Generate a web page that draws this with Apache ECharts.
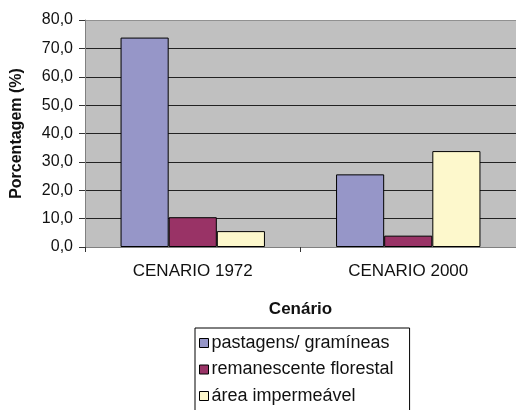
<!DOCTYPE html>
<html>
<head>
<meta charset="utf-8">
<script src="https://cdn.jsdelivr.net/npm/echarts@6/dist/echarts.min.js"></script>
<style>
  html, body { margin: 0; padding: 0; background: #fff; }
  #chart { width: 516px; height: 410px; }
</style>
</head>
<body>
<div id="chart"></div>
<script>
  // dados
  var cenarios = ['CENARIO 1972', 'CENARIO 2000']
  var pastagens = [73.8, 25.6]
  var remanescente = [10.5, 4.0]
  var impermeavel = [5.6, 33.8]
  var nomes = ['pastagens/ gramíneas', 'remanescente florestal', 'área impermeável']

  var fonte = 'Liberation Sans, Arial, sans-serif'
  var chart = echarts.init(document.getElementById('chart'))

  function serie (nome, dados, cor) {
    return {
      name: nome,
      type: 'bar',
      data: dados,
      barGap: '0%',
      barCategoryGap: '33%',
      itemStyle: {
        color: cor,
        borderColor: '#000',
        borderWidth: 1
      }
    }
  }

  chart.setOption({
    animation: false,
    backgroundColor: '#fff',
    grid: {
      left: 85,
      top: 20,
      right: -5,
      bottom: 163,
      show: true,
      backgroundColor: '#c0c0c0',
      borderWidth: 0
    },
    legend: {
      orient: 'vertical',
      left: 195,
      top: 328,
      height: 110,
      padding: [6, 16, 12, 4],
      itemGap: 8.5,
      itemWidth: 9,
      itemHeight: 9,
      borderColor: '#000',
      borderWidth: 1,
      textStyle: { fontFamily: fonte, fontSize: 18, color: '#111', padding: [0, 0, 0, -2] },
      itemStyle: { borderColor: '#000', borderWidth: 1 },
      data: nomes.map(function (n) { return { name: n, icon: 'rect' } })
    },
    xAxis: {
      type: 'category',
      data: cenarios,
      name: 'Cenário',
      nameLocation: 'middle',
      nameGap: 54,
      nameTextStyle: { fontFamily: fonte, fontSize: 17, fontWeight: 'bold', color: '#111' },
      axisLine: { lineStyle: { color: '#808080', width: 1 } },
      axisTick: { show: true, length: 5, lineStyle: { color: '#333' } },
      axisLabel: { fontFamily: fonte, fontSize: 17, color: '#111', margin: 16 }
    },
    yAxis: {
      type: 'value',
      min: 0,
      max: 80,
      interval: 10,
      name: 'Porcentagem (%)',
      nameLocation: 'middle',
      nameGap: 60,
      nameTextStyle: { fontFamily: fonte, fontSize: 16, fontWeight: 'bold', color: '#111' },
      axisLine: { show: true, lineStyle: { color: '#808080', width: 1 } },
      axisTick: { show: true, length: 6, lineStyle: { color: '#333' } },
      axisLabel: {
        fontFamily: fonte,
        fontSize: 16,
        color: '#111',
        margin: 12,
        formatter: function (v) { return v.toFixed(1).replace('.', ',') }
      },
      splitLine: {
        show: true,
        lineStyle: {
          color: ['#222', '#222', '#222', '#222', '#222', '#222', '#222', '#222', '#909090'],
          width: 1
        }
      }
    },
    series: [
      serie(nomes[0], pastagens, '#9696c8'),
      serie(nomes[1], remanescente, '#993366'),
      serie(nomes[2], impermeavel, '#fdf8cc')
    ]
  })
</script>
</body>
</html>
